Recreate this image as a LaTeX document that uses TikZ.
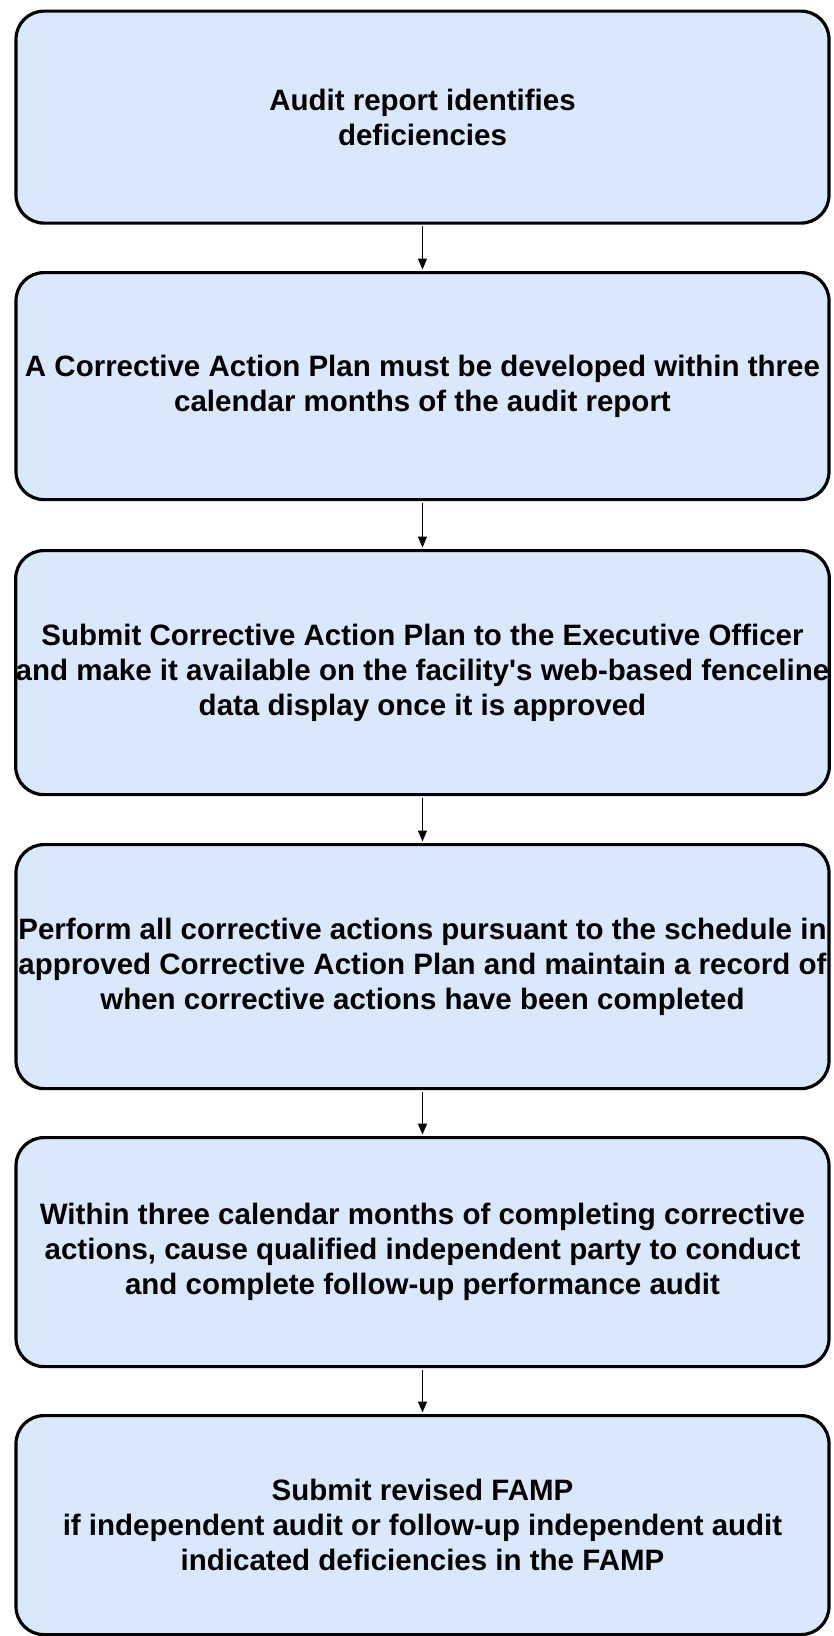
\documentclass[tikz,border=0pt]{standalone}
\usepackage{fontspec}
\setmainfont{Liberation Sans}[Ligatures=TeXOff]
\usetikzlibrary{arrows.meta}
\definecolor{boxfill}{HTML}{DAE8FC}
\begin{document}
\begin{tikzpicture}[x=1pt,y=-1pt,
 stepbox/.style={draw=black, line width=3.2pt, fill=boxfill, rounded corners=28pt,
   minimum width=813pt, align=center, inner sep=0pt, anchor=north,
   font=\fontsize{29.5}{35}\selectfont\bfseries},
 flow/.style={-{Triangle[length=11pt,width=9pt]}, line width=1.3pt, shorten >=1.5pt, shorten <=1.5pt}]
\useasboundingbox (0,0) rectangle (833,1636);
\node[stepbox, minimum height=212pt] (b1) at (422.5,9.5) {Audit report identifies\\deficiencies};
\node[stepbox, minimum height=227pt] (b2) at (422.5,271) {A Corrective Action Plan must be developed within three\\calendar months of the audit report};
\node[stepbox, minimum height=244pt] (b3) at (422.5,549) {Submit Corrective Action Plan to the Executive Officer\\and make it available on the facility's web-based fenceline\\data display once it is approved};
\node[stepbox, minimum height=244pt] (b4) at (422.5,843) {Perform all corrective actions pursuant to the schedule in\\approved Corrective Action Plan and maintain a record of\\when corrective actions have been completed};
\node[stepbox, minimum height=229pt] (b5) at (422.5,1136) {Within three calendar months of completing corrective\\actions, cause qualified independent party to conduct\\and complete follow-up performance audit};
\node[stepbox, minimum height=219pt] (b6) at (422.5,1414) {Submit revised FAMP\\if independent audit or follow-up independent audit\\indicated deficiencies in the FAMP};
\draw[flow] (b1.south) -- (b2.north);
\draw[flow] (b2.south) -- (b3.north);
\draw[flow] (b3.south) -- (b4.north);
\draw[flow] (b4.south) -- (b5.north);
\draw[flow] (b5.south) -- (b6.north);
\end{tikzpicture}
\end{document}
